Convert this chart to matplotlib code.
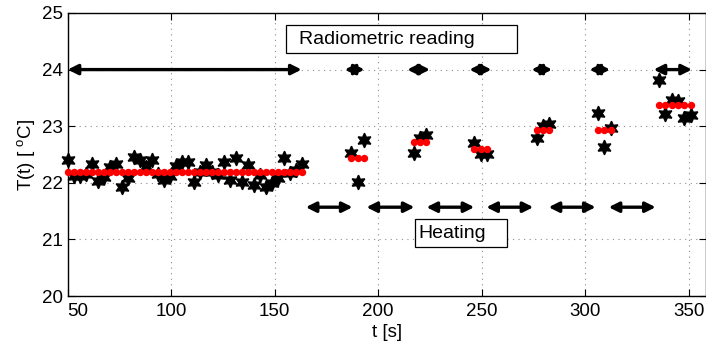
import numpy as np
import matplotlib
matplotlib.use('Agg')
import matplotlib.pyplot as plt
from matplotlib.patches import Rectangle

plt.rcParams['font.family'] = ['Liberation Sans', 'DejaVu Sans']
plt.rcParams['mathtext.fontset'] = 'custom'
plt.rcParams['mathtext.rm'] = 'Liberation Sans'

# baseline period (before heating)
t_base = [50.0, 52.9, 55.8, 58.7, 61.6, 64.5, 67.4, 70.3, 73.2, 76.1,
          79.0, 81.9, 84.8, 87.7, 90.6, 93.5, 96.4, 99.3, 102.2, 105.1,
          108.0, 110.9, 113.8, 116.7, 119.6, 122.5, 125.4, 128.3, 131.2, 134.1,
          137.0, 139.9, 142.8, 145.7, 148.6, 151.5, 154.4, 157.3, 160.2, 163.1]
T_meas_base = [22.40, 22.12, 22.12, 22.15, 22.34, 22.03, 22.10, 22.28, 22.34, 21.93,
               22.08, 22.46, 22.40, 22.28, 22.40, 22.15, 22.05, 22.12, 22.30, 22.36,
               22.37, 22.02, 22.20, 22.31, 22.20, 22.14, 22.37, 22.05, 22.43, 22.02,
               22.31, 21.96, 22.14, 21.93, 22.00, 22.08, 22.44, 22.17, 22.22, 22.34]
T_model_base = 22.2

# radiometric readings between heating steps
t_steps = [[187.0, 190.2, 193.0],
           [217.5, 220.3, 223.1],
           [246.4, 249.7, 252.6],
           [276.7, 279.7, 282.6],
           [305.9, 309.1, 312.3],
           [335.6, 338.5, 341.7, 344.8, 347.8, 350.9]]
T_meas_steps = [[22.53, 22.02, 22.76],
                [22.53, 22.79, 22.84],
                [22.71, 22.51, 22.51],
                [22.79, 23.00, 23.04],
                [23.23, 22.64, 22.96],
                [23.82, 23.21, 23.46, 23.45, 23.14, 23.20]]
T_model_steps = [22.43, 22.72, 22.59, 22.94, 22.94, 23.37]

# intervals drawn as double arrows
radiometric_intervals = [(50, 163), (183.8, 193.4), (214, 225), (244, 254.7),
                         (274, 284), (302, 312), (333, 351.5)]
heating_intervals = [(165, 187.6), (194.3, 217.5), (223.3, 246.4),
                     (252.2, 274.9), (282.3, 305), (311.3, 334)]

fig = plt.figure(figsize=(7.06, 3.5), dpi=100)
ax = fig.add_axes([0.0958, 0.154, 0.9042, 0.809])

star = (6, 1, 0)
ax.plot(t_base, T_meas_base, linestyle='none', marker=star, ms=10.5,
        mfc='k', mec='k', zorder=3, clip_on=False)
ax.plot(t_base, [T_model_base] * len(t_base), linestyle='none', marker='o',
        ms=4.3, mfc='r', mec='r', zorder=4, clip_on=False)
for ts, ms_, mod in zip(t_steps, T_meas_steps, T_model_steps):
    ax.plot(ts, ms_, linestyle='none', marker=star, ms=10.5, mfc='k', mec='k',
            zorder=3, clip_on=False)
    ax.plot(ts, [mod] * len(ts), linestyle='none', marker='o', ms=4.3,
            mfc='r', mec='r', zorder=4, clip_on=False)

arrow_kw = dict(arrowstyle='<|-|>', color='k', lw=2.4, mutation_scale=15,
                shrinkA=0, shrinkB=0)
for a, b in radiometric_intervals:
    ax.annotate('', xy=(b, 24), xytext=(a, 24), arrowprops=arrow_kw, zorder=5)
for a, b in heating_intervals:
    ax.annotate('', xy=(b, 21.57), xytext=(a, 21.57), arrowprops=arrow_kw, zorder=5)

# labels in boxes
ax.add_patch(Rectangle((155.3, 24.29), 111.7, 0.5, facecolor='white',
                       edgecolor='k', lw=0.9, zorder=6))
ax.text(161.5, 24.53, 'Radiometric reading', fontsize=14, va='center',
        ha='left', zorder=7)
ax.add_patch(Rectangle((217.6, 20.87), 44.4, 0.49, facecolor='white',
                       edgecolor='k', lw=0.9, zorder=6))
ax.text(219.3, 21.1, 'Heating', fontsize=14, va='center', ha='left', zorder=7)

ax.set_xlim(50, 358.3)
ax.set_ylim(20, 25)
ax.set_xticks([50, 100, 150, 200, 250, 300, 350])
ax.set_yticks([20, 21, 22, 23, 24, 25])
ax.grid(True, color='0.55', linestyle=(0, (1, 4)), lw=0.8)
ax.tick_params(direction='in', length=5, top=True, right=True, labelsize=13.5,
               width=0.8)
ax.tick_params(axis='x', pad=5)
ax.get_xticklabels()[0].set_ha('left')
for s in ax.spines.values():
    s.set_linewidth(1.0)
ax.set_xlabel('t [s]', fontsize=13.5, labelpad=3)
ax.set_ylabel(r'T(t) [ $^{\rm o}$C]', fontsize=13.5, labelpad=3)

fig.savefig('out.png', dpi=100)
